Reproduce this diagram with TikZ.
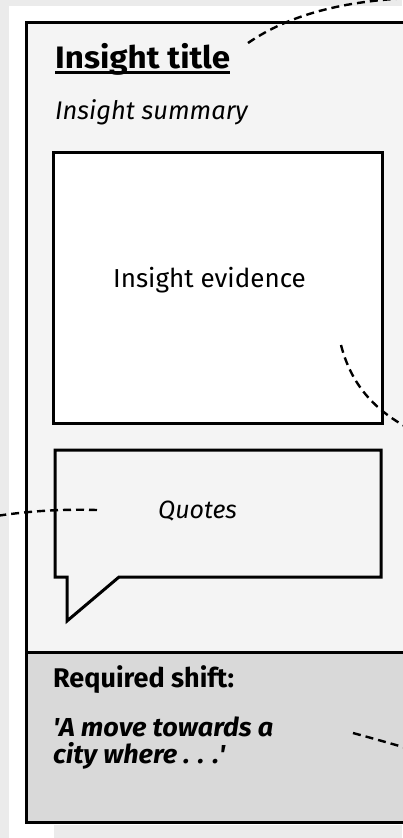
\documentclass[tikz,border=0pt]{standalone}
\usepackage{fontspec}
\setmainfont{Fira Sans}
\usetikzlibrary{calc}
\definecolor{bggray}{HTML}{EBEBEB}
\definecolor{cardfill}{HTML}{F4F4F4}
\definecolor{shiftfill}{HTML}{D9D9D9}
\tikzset{
  cardline/.style={line width=3pt, draw=black},
  dashline/.style={line width=2.4pt, dash pattern=on 8pt off 5pt},
  txt/.style={inner sep=0pt, anchor=base west, text=black},
  shifttxt/.style={txt, font=\bfseries\itshape\fontsize{26}{26}\selectfont\addfontfeature{FakeStretch=1.04}},
}
\begin{document}
\begin{tikzpicture}[x=1pt,y=-1pt]
\useasboundingbox (0,0) rectangle (402,838);
\fill[bggray] (0,0) rectangle (402,838);
\fill[white] (9,6) rectangle (402,838);
\fill[bggray] (54,824.5) rectangle (402,838);
% card
\draw[cardline, fill=cardfill] (26.5,22.5) rectangle (420,652);
\draw[cardline, fill=shiftfill] (26.5,652) rectangle (420,822);
% evidence box
\node[cardline, fill=white, minimum width=329pt, minimum height=271pt, inner sep=0pt] (evidence) at (217.5,287.5) {};
% quote bubble
\draw[cardline, fill=cardfill, line join=miter] (55,450) -- (55,577) -- (67,577) -- (67,621) -- (119,577) -- (381,577) -- (381,450) -- cycle;
% texts
\node[txt, font=\bfseries\fontsize{31}{31}\selectfont\addfontfeature{FakeStretch=1.07}] (title) at (55,68) {Insight title};
\draw[line width=2.2pt] ($(title.base west)+(0,4.5)$) -- ($(title.base east)+(0,4.5)$);
\node[txt, font=\itshape\fontsize{25.5}{25.5}\selectfont] (summary) at (55,119) {Insight summary};
\node[txt, font=\fontsize{26}{26}\selectfont] (evtext) at (113,287) {Insight evidence};
\node[txt, font=\itshape\fontsize{25}{25}\selectfont] (quotes) at (158,518) {Quotes};
\node[txt, font=\bfseries\fontsize{27}{27}\selectfont] (shift) at (53,687) {Required shift:};
\node[shifttxt] (shift1) at (53,736) {\textquotesingle A move towards a};
\node[shifttxt] (shift2) at (53,763) {city where . . .\textquotesingle};
% dashed connectors
\coordinate (d1s) at (248,43);
\coordinate (d1e) at (410,-2);
\coordinate (d2s) at (341,345);
\coordinate (d2e) at (410,429);
\coordinate (d3s) at (97,510);
\coordinate (d3e) at (-4,516);
\coordinate (d4s) at (353,733);
\coordinate (d4e) at (410,749);
\draw[dashline] (d1s) .. controls (290,14) and (345,1) .. (d1e);
\draw[dashline] (d2s) .. controls (350,380) and (370,408) .. (d2e);
\draw[dashline] (d3s) .. controls (60,509) and (30,511) .. (d3e);
\draw[dashline] (d4s) .. controls (375,739) .. (d4e);
\end{tikzpicture}
\end{document}
